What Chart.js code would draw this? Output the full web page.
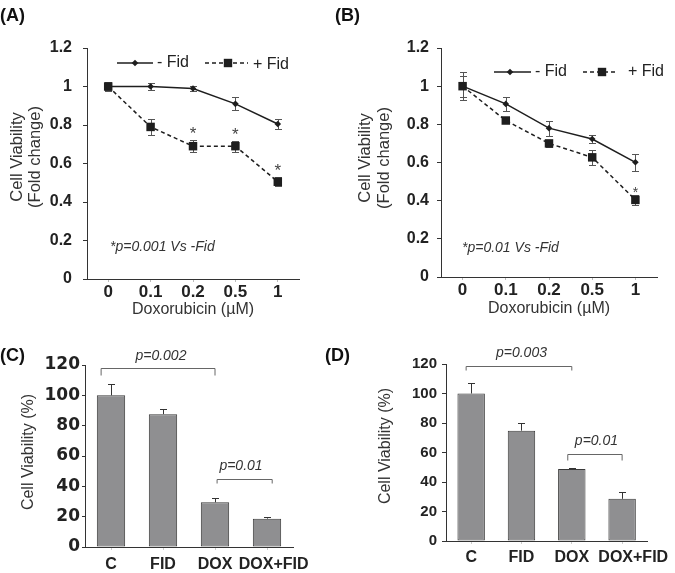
<!DOCTYPE html>
<html>
<head>
<meta charset="utf-8">
<script src="https://cdn.jsdelivr.net/npm/chart.js@4.4.1/dist/chart.umd.min.js"></script>
<style>
  body { margin: 0; background: #fff; width: 675px; height: 573px; position: relative; overflow: hidden; }
  canvas { position: absolute; }
</style>
</head>
<body>
<canvas id="cA" width="330" height="325" style="left:0;top:0"></canvas>
<canvas id="cB" width="345" height="325" style="left:330px;top:0"></canvas>
<canvas id="cC" width="325" height="248" style="left:0;top:325px"></canvas>
<canvas id="cD" width="350" height="248" style="left:325px;top:325px"></canvas>
<script>
// ── Data ──
const doses      = ['0', '0.1', '0.2', '0.5', '1'];
const aMinus     = [1.0, 1.0, 0.99, 0.91, 0.805];
const aMinusErr  = [0.02, 0.02, 0.012, 0.033, 0.028];
const aPlus      = [1.0, 0.79, 0.69, 0.69, 0.505];
const aPlusErr   = [0.022, 0.043, 0.032, 0.029, 0.024];
const bMinus     = [1.0, 0.907, 0.78, 0.723, 0.601];
const bMinusErr  = [0.072, 0.035, 0.04, 0.022, 0.046];
const bPlus      = [1.0, 0.82, 0.70, 0.627, 0.404];
const bPlusErr   = [0.055, 0.008, 0.02, 0.041, 0.026];
const groups     = ['C', 'FID', 'DOX', 'DOX+FID'];
const cVals      = [100, 87.6, 29.5, 18.7];
const cErr       = [7.2, 3.3, 3.1, 1.0];
const dVals      = [100, 74.8, 48.8, 28.6];
const dErr       = [7.0, 5.5, 0.7, 4.5];

const FONT  = "'Liberation Sans', Arial, sans-serif";
const INK   = '#1e1e1e';
const GREY  = '#8f8f91';

// ── Helpers ──
function drawErrors(chart, upOnly) {
  const ctx = chart.ctx, y = chart.scales.y;
  chart.data.datasets.forEach((ds, i) => {
    if (!ds.errors) return;
    const meta = chart.getDatasetMeta(i);
    ctx.save();
    ctx.strokeStyle = ds.errorColor || '#555';
    ctx.lineWidth = 1;
    meta.data.forEach((el, j) => {
      const v = ds.data[j], e = ds.errors[j];
      const px  = Math.round(el.x) + 0.5;
      const top = Math.round(y.getPixelForValue(v + e)) + 0.5;
      const bot = upOnly ? el.y : Math.round(y.getPixelForValue(v - e)) + 0.5;
      const cap = ds.capWidth || 3.5;
      ctx.beginPath();
      ctx.moveTo(px, top); ctx.lineTo(px, bot);
      ctx.moveTo(px - cap, top); ctx.lineTo(px + cap, top);
      if (!upOnly) { ctx.moveTo(px - cap, bot); ctx.lineTo(px + cap, bot); }
      ctx.stroke();
    });
    ctx.restore();
  });
}

function txt(ctx, s, x, y, font, color, align) {
  ctx.font = font;
  ctx.fillStyle = color;
  ctx.textAlign = align || 'left';
  ctx.textBaseline = 'middle';
  ctx.fillText(s, x, y);
}

function legendItem(ctx, l) {
  ctx.save();
  ctx.strokeStyle = INK;
  ctx.lineWidth = 1.5;
  ctx.setLineDash(l.dash ? [4, 3] : []);
  ctx.beginPath(); ctx.moveTo(l.x1, l.y); ctx.lineTo(l.x2, l.y); ctx.stroke();
  ctx.setLineDash([]);
  ctx.fillStyle = INK;
  ctx.beginPath();
  if (l.square) {
    ctx.rect(l.mx - 4.2, l.y - 4.2, 8.4, 8.4);
  } else {
    ctx.moveTo(l.mx, l.y - 3.3); ctx.lineTo(l.mx + 3.3, l.y);
    ctx.lineTo(l.mx, l.y + 3.3); ctx.lineTo(l.mx - 3.3, l.y);
    ctx.closePath();
  }
  ctx.fill();
  txt(ctx, l.label, l.tx, l.ty || l.y, '16px ' + FONT, '#222', 'left');
  ctx.restore();
}

function makeExtras(cfg) {
  return {
    id: 'extras',
    beforeDatasetsDraw(chart) { if (cfg.errMode === 'both') drawErrors(chart, false); },
    afterDatasetsDraw(chart)  { if (cfg.errMode === 'up') drawErrors(chart, true); },
    afterDraw(chart) {
      const ctx = chart.ctx, xs = chart.scales.x, ys = chart.scales.y;
      ctx.save();
      txt(ctx, cfg.letter[0], cfg.letter[1], cfg.letter[2], 'bold 18px ' + FONT, '#111', 'left');
      // rotated y-axis title lines
      cfg.yTitle.lines.forEach((line, k) => {
        ctx.save();
        ctx.translate(cfg.yTitle.xs[k], cfg.yTitle.y);
        ctx.rotate(-Math.PI / 2);
        txt(ctx, line, 0, 0, cfg.yTitle.size + 'px ' + FONT, '#333', 'center');
        ctx.restore();
      });
      if (cfg.note) txt(ctx, cfg.note[0], cfg.note[1], cfg.note[2], 'italic 14px ' + FONT, '#333', 'left');
      (cfg.legend || []).forEach(l => legendItem(ctx, l));
      (cfg.stars || []).forEach(s => {
        const ds = chart.data.datasets[s.ds];
        const el = chart.getDatasetMeta(s.ds).data[s.idx];
        const py = ys.getPixelForValue(ds.data[s.idx] + ds.errors[s.idx]) + s.dy;
        ctx.font = s.size + 'px ' + FONT;
        ctx.fillStyle = '#444';
        ctx.textAlign = 'center';
        ctx.textBaseline = 'alphabetic';
        ctx.fillText('*', el.x, py + 0.58 * s.size);
      });
      (cfg.brackets || []).forEach(b => {
        const x1 = xs.getPixelForValue(b.from), x2 = xs.getPixelForValue(b.to);
        const py = Math.round(ys.getPixelForValue(b.y)) + 0.5;
        ctx.strokeStyle = '#666';
        ctx.lineWidth = 1;
        ctx.beginPath();
        ctx.moveTo(x1, py + b.drop); ctx.lineTo(x1, py);
        ctx.lineTo(x2, py); ctx.lineTo(x2, py + b.drop);
        ctx.stroke();
        txt(ctx, b.label, xs.getPixelForValue(b.lx), py + b.ldy, 'italic 14px ' + FONT, '#333', 'center');
      });
      ctx.restore();
    }
  };
}

function lineChart(id, minus, minusErr, plus, plusErr, lay, extras) {
  new Chart(document.getElementById(id), {
    type: 'line',
    data: {
      labels: doses,
      datasets: [
        { data: minus, errors: minusErr, borderColor: INK, borderWidth: 1.5, tension: 0,
          pointStyle: 'rectRot', pointRadius: 3.3, pointBackgroundColor: INK, pointBorderWidth: 0,
          errorColor: '#555', capWidth: 3.5 },
        { data: plus, errors: plusErr, borderColor: INK, borderWidth: 1.5, borderDash: [4, 3], tension: 0,
          pointStyle: 'rect', pointRadius: 6, pointBackgroundColor: INK, pointBorderWidth: 0,
          errorColor: '#555', capWidth: 3.5 },
      ],
    },
    options: {
      responsive: false, animation: false, events: [],
      layout: { padding: { left: 0, top: lay.top, right: lay.right, bottom: 0 } },
      plugins: { legend: { display: false }, tooltip: { enabled: false } },
      scales: {
        x: {
          offset: true,
          grid: { display: true, drawOnChartArea: false, offset: false, tickLength: 3, color: '#bbb' },
          border: { color: '#333', width: 1 },
          ticks: { color: '#222', padding: lay.xPad, font: { family: FONT, size: 17, weight: 'bold' } },
          title: { display: true, text: 'Doxorubicin (µM)', color: '#333',
                   font: { family: FONT, size: 16 }, padding: { top: 0, bottom: lay.xtPad } },
          afterFit: s => { s.height = lay.xh; },
        },
        y: {
          min: 0, max: 1.2,
          grid: { display: true, drawOnChartArea: false, tickLength: 4, color: '#333' },
          border: { color: '#333', width: 1 },
          ticks: { stepSize: 0.2, color: '#222', padding: lay.yPad,
                   font: { family: FONT, size: 16, weight: 'bold' },
                   callback: v => String(+v.toFixed(1)) },
          afterFit: s => { s.width = lay.yw; },
        },
      },
    },
    plugins: [makeExtras(extras)],
  });
}

function barChart(id, vals, errs, lay, extras) {
  new Chart(document.getElementById(id), {
    type: 'bar',
    data: {
      labels: groups,
      datasets: [{
        data: vals, errors: errs, backgroundColor: GREY, borderColor: '#3a3a3a', borderWidth: 1,
        borderSkipped: false, categoryPercentage: 1, barPercentage: 0.545,
        errorColor: '#333', capWidth: 3.5,
      }],
    },
    options: {
      responsive: false, animation: false, events: [],
      layout: { padding: { left: 0, top: lay.top, right: lay.right, bottom: 0 } },
      plugins: { legend: { display: false }, tooltip: { enabled: false } },
      scales: {
        x: {
          grid: { display: true, drawOnChartArea: false, offset: false, tickLength: 3, color: '#ccc' },
          border: { color: '#333', width: 1 },
          // leading spaces nudge the long last label right, as in the original
          ticks: { color: '#222', padding: lay.xPad, autoSkip: false, maxRotation: 0, minRotation: 0,
                   font: { family: FONT, size: 16, weight: 'bold' },
                   callback: (v, i) => ' '.repeat(lay.nudge[i]) + groups[i] },
          afterFit: s => { s.height = lay.xh; },
        },
        y: {
          min: 0, max: 120,
          grid: { display: true, drawOnChartArea: false, tickLength: lay.tl, color: '#333' },
          border: { color: '#333', width: 1 },
          ticks: { stepSize: 20, color: '#222', padding: lay.yPad,
                   font: { family: lay.yFont, size: lay.ySize, weight: 'bold' } },
          afterFit: s => { s.width = lay.yw; },
        },
      },
    },
    plugins: [makeExtras(extras)],
  });
}

// ── Panels ──
lineChart('cA', aMinus, aMinusErr, aPlus, aPlusErr,
  { top: 48, right: 31, xh: 46, yw: 87, xPad: 0, xtPad: 6, yPad: 11 },
  { errMode: 'both', letter: ['(A)', 0, 16], note: ['*p=0.001 Vs -Fid', 110, 247],
    yTitle: { lines: ['Cell Viability', '(Fold change)'], xs: [17.5, 35], y: 157, size: 16.5 },
    legend: [
      { x1: 117, x2: 153, y: 63, mx: 135, label: '- Fid', tx: 157 },
      { x1: 205, x2: 248, y: 63, mx: 228, square: true, dash: true, label: '+ Fid', tx: 253, ty: 65 },
    ],
    stars: [{ ds: 1, idx: 2, dy: -10.5, size: 17 }, { ds: 1, idx: 3, dy: -10.5, size: 17 },
            { ds: 1, idx: 4, dy: -11, size: 17 }] });

lineChart('cB', bMinus, bMinusErr, bPlus, bPlusErr,
  { top: 48, right: 18, xh: 48, yw: 111, xPad: 0, xtPad: 7, yPad: 8 },
  { errMode: 'both', letter: ['(B)', 5, 16], note: ['*p=0.01 Vs -Fid', 132, 248],
    yTitle: { lines: ['Cell Viability', '(Fold change)'], xs: [35.5, 54.5], y: 158, size: 16.5 },
    legend: [
      { x1: 164, x2: 201, y: 72, mx: 180, label: '- Fid', tx: 205 },
      { x1: 253, x2: 285, y: 72, mx: 272, square: true, dash: true, label: '+ Fid', tx: 298 },
    ],
    stars: [{ ds: 1, idx: 4, dy: -6.5, size: 14 }] });

barChart('cC', cVals, cErr,
  { top: 40, right: 32, xh: 26, yw: 85, xPad: 5, tl: 3, yPad: 2, nudge: [0, 0, 0, 3],
    yFont: "'DejaVu Sans', sans-serif", ySize: 17 },
  { errMode: 'up', letter: ['(C)', 0, 31],
    yTitle: { lines: ['Cell Viability (%)'], xs: [28.5], y: 127, size: 16 },
    brackets: [
      { from: -0.19, to: 2.0, y: 118, drop: 7, label: 'p=0.002', lx: 0.96, ldy: -12 },
      { from: 2.04, to: 3.1, y: 44.8, drop: 4, label: 'p=0.01', lx: 2.5, ldy: -13 },
    ] });

barChart('cD', dVals, dErr,
  { top: 39, right: 23, xh: 32, yw: 121, xPad: 4, tl: 4, yPad: 5, nudge: [0, 0, 0, 5],
    yFont: FONT, ySize: 15 },
  { errMode: 'up', letter: ['(D)', 0, 31],
    yTitle: { lines: ['Cell Viability (%)'], xs: [60.5], y: 121, size: 16 },
    brackets: [
      { from: -0.1, to: 2.0, y: 118.6, drop: 4, label: 'p=0.003', lx: 1.0, ldy: -13 },
      { from: 1.92, to: 3.0, y: 59, drop: 6, label: 'p=0.01', lx: 2.49, ldy: -13 },
    ] });
</script>
</body>
</html>
